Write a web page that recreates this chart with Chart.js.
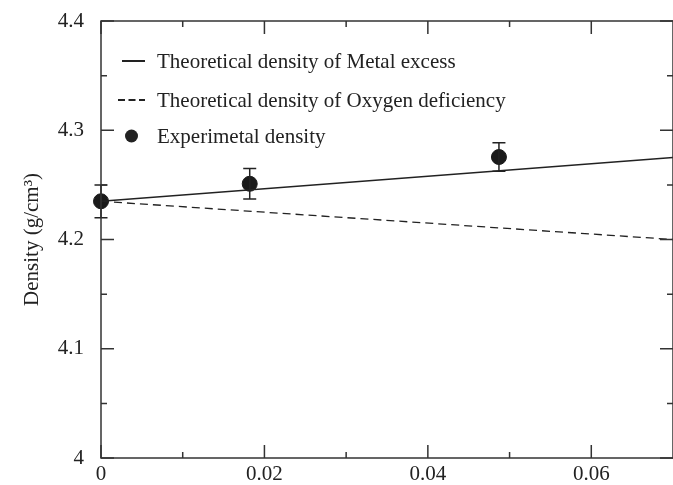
<!DOCTYPE html>
<html>
<head>
<meta charset="utf-8">
<script src="https://cdn.jsdelivr.net/npm/chart.js@4.4.0/dist/chart.umd.min.js"></script>
<style>
  html, body { margin: 0; padding: 0; background: #fff; }
  #wrap { width: 673px; height: 485px; }
</style>
</head>
<body>
<div id="wrap"><canvas id="densityChart" width="673" height="485"></canvas></div>
<script>
// composition (x) and density data
const lineX = [0, 0.07];
const metalExcess = [4.235, 4.275];
const oxygenDeficiency = [4.235, 4.2];

const expX = [0, 0.0182, 0.0487];
const expY = [4.235, 4.251, 4.2755];
const expErr = [0.015, 0.014, 0.013];

const xTicks = [0, 0.02, 0.04, 0.06];
const xTickLabels = ["0", "0.02", "0.04", "0.06"];
const xMinor = [0.01, 0.03, 0.05];
const yTicks = [4, 4.1, 4.2, 4.3, 4.4];
const yTickLabels = ["4", "4.1", "4.2", "4.3", "4.4"];
const yMinor = [4.05, 4.15, 4.25, 4.35];

const legendLabels = [
  "Theoretical density of Metal excess",
  "Theoretical density of Oxygen deficiency",
  "Experimetal density",
];

const INK = "#222";
const SERIF = "'Liberation Serif', 'Times New Roman', serif";

// error bars for the experimental points
const errorBars = {
  id: "errorBars",
  afterDatasetsDraw(chart) {
    const { ctx, scales: { x, y } } = chart;
    ctx.save();
    ctx.strokeStyle = INK;
    ctx.lineWidth = 1.5;
    expX.forEach((v, i) => {
      const px = x.getPixelForValue(v);
      const top = y.getPixelForValue(expY[i] + expErr[i]);
      const bot = y.getPixelForValue(expY[i] - expErr[i]);
      ctx.beginPath();
      ctx.moveTo(px, top); ctx.lineTo(px, bot);
      ctx.moveTo(px - 6.5, top); ctx.lineTo(px + 6.5, top);
      ctx.moveTo(px - 6.5, bot); ctx.lineTo(px + 6.5, bot);
      ctx.stroke();
    });
    ctx.restore();
  },
};

// box frame with inward ticks on all four sides
const frame = {
  id: "frame",
  afterDraw(chart) {
    const { ctx, chartArea: a, scales: { x, y } } = chart;
    ctx.save();
    ctx.strokeStyle = "#333";
    ctx.lineWidth = 1.5;
    ctx.strokeRect(a.left, a.top, a.right - a.left, a.bottom - a.top);
    ctx.beginPath();
    const tick = (vals, len) => {
      vals.forEach((v) => {
        const px = x.getPixelForValue(v);
        ctx.moveTo(px, a.bottom); ctx.lineTo(px, a.bottom - len);
        ctx.moveTo(px, a.top); ctx.lineTo(px, a.top + len);
      });
    };
    const ytick = (vals, len) => {
      vals.forEach((v) => {
        const py = y.getPixelForValue(v);
        ctx.moveTo(a.left, py); ctx.lineTo(a.left + len, py);
        ctx.moveTo(a.right, py); ctx.lineTo(a.right - len, py);
      });
    };
    tick(xTicks, 13);
    tick(xMinor, 6);
    ytick(yTicks, 13);
    ytick(yMinor, 6);
    ctx.stroke();
    ctx.restore();
  },
};

// legend sitting inside the plot, top-left
const innerLegend = {
  id: "innerLegend",
  afterDraw(chart) {
    const { ctx, chartArea: a } = chart;
    const x0 = a.left + 21, x1 = a.left + 44, tx = a.left + 56;
    const rows = [a.top + 40, a.top + 79, a.top + 115];
    ctx.save();
    ctx.strokeStyle = INK;
    ctx.fillStyle = INK;
    ctx.lineWidth = 2;
    ctx.beginPath();
    ctx.moveTo(x0, rows[0]); ctx.lineTo(x1, rows[0]);
    ctx.stroke();
    ctx.setLineDash([7, 3.5]);
    ctx.beginPath();
    ctx.moveTo(x0 - 4, rows[1]); ctx.lineTo(x1, rows[1]);
    ctx.stroke();
    ctx.setLineDash([]);
    ctx.beginPath();
    ctx.arc((x0 + x1) / 2 - 2, rows[2], 6.5, 0, Math.PI * 2);
    ctx.fill();
    ctx.font = "21px " + SERIF;
    ctx.textBaseline = "middle";
    legendLabels.forEach((t, i) => ctx.fillText(t, tx, rows[i] + 1));
    ctx.restore();
  },
};

new Chart(document.getElementById("densityChart"), {
  type: "scatter",
  data: {
    datasets: [
      {
        label: legendLabels[0],
        data: lineX.map((v, i) => ({ x: v, y: metalExcess[i] })),
        showLine: true,
        borderColor: INK,
        borderWidth: 1.5,
        pointRadius: 0,
      },
      {
        label: legendLabels[1],
        data: lineX.map((v, i) => ({ x: v, y: oxygenDeficiency[i] })),
        showLine: true,
        borderColor: INK,
        borderWidth: 1.3,
        borderDash: [8, 5],
        pointRadius: 0,
      },
      {
        label: legendLabels[2],
        data: expX.map((v, i) => ({ x: v, y: expY[i] })),
        pointRadius: 7.5,
        pointBackgroundColor: "#1a1a1a",
        pointBorderColor: "#1a1a1a",
        clip: false,
      },
    ],
  },
  options: {
    responsive: false,
    animation: false,
    layout: { autoPadding: false, padding: { top: 21, right: 0, left: 0, bottom: 0 } },
    plugins: { legend: { display: false }, tooltip: { enabled: false } },
    scales: {
      x: {
        type: "linear",
        min: 0,
        max: 0.07,
        grid: { display: false, drawTicks: false },
        border: { display: false },
        afterBuildTicks: (s) => { s.ticks = xTicks.map((v) => ({ value: v })); },
        afterFit: (s) => { s.height = 27; s.paddingRight = 0; s.paddingLeft = 0; },
        ticks: {
          color: "#222",
          padding: 4,
          maxRotation: 0,
          font: { family: SERIF, size: 21 },
          callback: (v) => xTickLabels[xTicks.indexOf(v)],
        },
      },
      y: {
        type: "linear",
        min: 4,
        max: 4.4,
        grid: { display: false, drawTicks: false },
        border: { display: false },
        afterBuildTicks: (s) => { s.ticks = yTicks.map((v) => ({ value: v })); },
        afterFit: (s) => { s.width = 101; s.paddingTop = 0; s.paddingBottom = 0; },
        ticks: {
          color: "#222",
          padding: 17,
          font: { family: SERIF, size: 21 },
          callback: (v) => yTickLabels[yTicks.indexOf(v)],
        },
        title: {
          display: true,
          text: "Density (g/cm\u00B3)",
          color: "#222",
          padding: { top: 20, bottom: 0 },
          font: { family: SERIF, size: 21 },
        },
      },
    },
  },
  plugins: [errorBars, frame, innerLegend],
});
</script>
</body>
</html>
